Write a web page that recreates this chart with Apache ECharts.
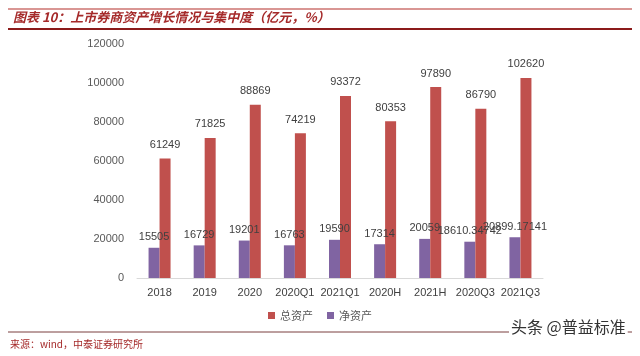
<!DOCTYPE html>
<html><head><meta charset="utf-8">
<script src="https://cdn.jsdelivr.net/npm/echarts@6/dist/echarts.min.js"></script>
<style>html,body{margin:0;padding:0;background:#fff}#c{width:640px;height:356px}</style>
</head><body><div id="c"></div>
<script>
var categories = ['2018','2019','2020','2020Q1','2021Q1','2020H','2021H','2020Q3','2021Q3'];
var totalAssets = [61249,71825,88869,74219,93372,80353,97890,86790,102620];
var netAssets = [15505,16729,19201,16763,19590,17314,20059,18610.34742,20899.17141];
var yTicks = {min:0, max:120000, interval:20000};

var chart = echarts.init(document.getElementById('c'));
var font = '"Microsoft YaHei","Noto Sans CJK SC",sans-serif';
chart.setOption({
  animation:false,
  backgroundColor:'#fff',
  textStyle:{fontFamily:font},
  graphic:[
    {type:'line',shape:{x1:8,y1:9,x2:632,y2:9},style:{stroke:'#C0504D',lineWidth:2,opacity:0.6}},
    {type:'text',left:13,top:11,style:{text:'图表 10：上市券商资产增长情况与集中度（亿元，%）',fill:'#A52A2A',font:'italic bold 13px "Noto Sans CJK SC",sans-serif'}},
    {type:'line',shape:{x1:8,y1:29,x2:632,y2:29},style:{stroke:'#8B1A1A',lineWidth:2}},
    {type:'line',shape:{x1:8,y1:332,x2:632,y2:332},style:{stroke:'#7B3F3F',lineWidth:1}},
    {type:'text',left:10,top:339,style:{text:'来源：wind，中泰证券研究所',fill:'#A52A2A',font:'10px "Noto Sans CJK SC",sans-serif'}},
    {type:'text',left:509,top:319,z:10,style:{text:'头条 @普益标准',fill:'#333',font:'16px "Noto Sans CJK SC",sans-serif',backgroundColor:'#fff',padding:[0,2]}}
  ],
  grid:{left:137,right:97,top:44,bottom:78},
  legend:{data:['总资产','净资产'],top:305,left:'center',itemWidth:7,itemHeight:7,itemGap:14,
    textStyle:{color:'#595959',fontSize:11,fontFamily:font},icon:'rect'},
  xAxis:{type:'category',data:categories,
    axisLine:{lineStyle:{color:'#D9D9D9'}},axisTick:{show:false},
    axisLabel:{color:'#404040',fontSize:11,margin:9,interval:0,fontFamily:'Liberation Sans, Arial'}},
  yAxis:{type:'value',min:yTicks.min,max:yTicks.max,interval:yTicks.interval,
    splitLine:{show:false},axisLine:{show:false},axisTick:{show:false},
    axisLabel:{color:'#595959',fontSize:11,margin:13,formatter:function(v){return String(v);},fontFamily:'Liberation Sans, Arial'}},
  series:[
    {name:'净资产',type:'bar',data:netAssets,barWidth:11,barGap:'0%',
      itemStyle:{color:'#8064A2'},
      label:{show:true,position:'top',color:'#404040',fontSize:11,distance:5,fontFamily:'Liberation Sans, Arial'}},
    {name:'总资产',type:'bar',data:totalAssets,barWidth:11,barGap:'0%',
      itemStyle:{color:'#C0504D'},
      label:{show:true,position:'top',color:'#404040',fontSize:11,distance:8,fontFamily:'Liberation Sans, Arial'}}
  ]
});
</script></body></html>
